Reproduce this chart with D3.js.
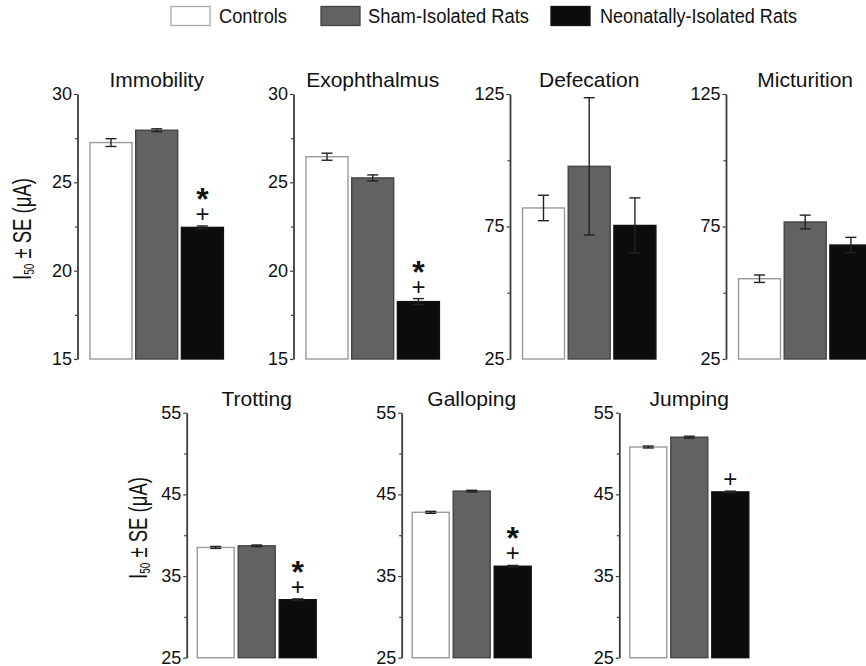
<!DOCTYPE html>
<html>
<head>
<meta charset="utf-8">
<script src="https://cdn.jsdelivr.net/npm/d3@7/dist/d3.min.js"></script>
<style>
  html, body { margin: 0; padding: 0; background: #fff; }
  svg { display: block; font-family: "Liberation Sans", Arial, Helvetica, sans-serif; }
</style>
</head>
<body>
<svg id="chart" width="866" height="666"></svg>
<script>
// ---- Data ----------------------------------------------------------------
const groups = ["Controls", "Sham-Isolated Rats", "Neonatally-Isolated Rats"];

const tests = ["Immobility", "Exophthalmus", "Defecation", "Micturition",
               "Trotting", "Galloping", "Jumping"];

// I50 means (µA) per test, in group order
const immobility   = [27.25, 27.95, 22.45];
const exophthalmus = [26.45, 25.25, 18.25];
const defecation   = [82.0, 97.7, 75.4];
const micturition  = [55.3, 76.7, 68.0];
const trotting     = [38.5, 38.7, 32.1];
const galloping    = [42.8, 45.4, 36.2];
const jumping      = [50.8, 52.0, 45.3];

// standard errors, in group order
const immobilitySE   = [0.22, 0.08, 0.08];
const exophthalmusSE = [0.2, 0.17, 0.17];
const defecationSE   = [4.8, 25.9, 10.4];
const micturitionSE  = [1.4, 2.6, 2.9];
const trottingSE     = [0.12, 0.1, 0.1];
const gallopingSE    = [0.12, 0.1, 0.1];
const jumpingSE      = [0.12, 0.12, 0.1];

// significance flags for the neonatally-isolated group (per test)
const starFlags = [true, true, false, false, true, true, false];
const plusFlags = [true, true, false, false, true, true, true];

// y-axis ticks per scale family
const ticksLow   = [15, 20, 25, 30];
const ticksWide  = [25, 75, 125];
const ticksGait  = [25, 35, 45, 55];

// ---- Styling -------------------------------------------------------------
const fills   = ["#ffffff", "#626262", "#0c0c0c"];
const strokes = ["#9a9a9a", "#444444", "#111111"];
const axisColor = "#3c3c3c";

const svg = d3.select("#chart");

// ---- Layout ---------------------------------------------------------------
const row1 = { top: 94, bottom: 359, offset: 12.5, step: 45.7, width: 42 };
const row2 = { top: 412.7, bottom: 657.7, offset: 10.5, step: 41, width: 37 };

const panels = [
  { values: immobility,   se: immobilitySE,   domain: [15, 30],  ticks: ticksLow,  axisX: 77.5,  row: row1 },
  { values: exophthalmus, se: exophthalmusSE, domain: [15, 30],  ticks: ticksLow,  axisX: 293.5, row: row1 },
  { values: defecation,   se: defecationSE,   domain: [25, 125], ticks: ticksWide, axisX: 510,   row: row1 },
  { values: micturition,  se: micturitionSE,  domain: [25, 125], ticks: ticksWide, axisX: 726,   row: row1 },
  { values: trotting,     se: trottingSE,     domain: [25, 55],  ticks: ticksGait, axisX: 186.7, row: row2 },
  { values: galloping,    se: gallopingSE,    domain: [25, 55],  ticks: ticksGait, axisX: 401.7, row: row2 },
  { values: jumping,      se: jumpingSE,      domain: [25, 55],  ticks: ticksGait, axisX: 619.3, row: row2 }
];

panels.forEach((p, i) => {
  const r = p.row;
  const g = svg.append("g");

  const y = d3.scaleLinear().domain(p.domain).range([r.bottom, r.top]);
  const x0 = p.axisX + r.offset;
  const x = d3.scaleBand()
    .domain(groups)
    .range([x0, x0 + 2 * r.step + r.width])
    .paddingInner((r.step - r.width) / r.step)
    .paddingOuter(0);

  // bars
  const rows = groups.map((grp, k) => ({ grp, k, v: p.values[k], se: p.se[k] }));
  g.selectAll("rect.bar").data(rows).join("rect")
    .attr("class", "bar")
    .attr("x", d => x(d.grp))
    .attr("y", d => y(d.v))
    .attr("width", x.bandwidth())
    .attr("height", d => y(p.domain[0]) - y(d.v))
    .attr("fill", d => fills[d.k])
    .attr("stroke", d => strokes[d.k])
    .attr("stroke-width", 1.4);

  // error bars
  const cap = 5.5;
  const eb = g.selectAll("g.err").data(rows).join("g").attr("class", "err")
    .attr("stroke", "#222").attr("stroke-width", 1.4);
  eb.append("line")
    .attr("x1", d => x(d.grp) + x.bandwidth() / 2)
    .attr("x2", d => x(d.grp) + x.bandwidth() / 2)
    .attr("y1", d => y(d.v + d.se))
    .attr("y2", d => y(d.v - d.se));
  eb.append("line")
    .attr("x1", d => x(d.grp) + x.bandwidth() / 2 - cap)
    .attr("x2", d => x(d.grp) + x.bandwidth() / 2 + cap)
    .attr("y1", d => y(d.v + d.se))
    .attr("y2", d => y(d.v + d.se));
  eb.append("line")
    .attr("x1", d => x(d.grp) + x.bandwidth() / 2 - cap)
    .attr("x2", d => x(d.grp) + x.bandwidth() / 2 + cap)
    .attr("y1", d => y(d.v - d.se))
    .attr("y2", d => y(d.v - d.se));

  // y axis: labelled major ticks
  const axis = g.append("g")
    .attr("transform", `translate(${p.axisX},0)`)
    .call(d3.axisLeft(y).tickValues(p.ticks).tickSize(3.5).tickSizeOuter(0).tickPadding(2)
      .tickFormat(d3.format("d")));
  axis.select(".domain").attr("stroke", axisColor).attr("stroke-width", 1.8);
  axis.selectAll(".tick line").attr("stroke", axisColor).attr("stroke-width", 1.2);
  axis.selectAll(".tick text")
    .attr("fill", "#111")
    .attr("font-size", 18)
    .attr("dy", "0.3em")
    .attr("font-family", "'Liberation Sans', Arial, sans-serif");

  // minor ticks halfway between majors
  const minor = d3.pairs(p.ticks).map(([a, b]) => (a + b) / 2);
  g.append("g")
    .attr("transform", `translate(${p.axisX},0)`)
    .call(d3.axisLeft(y).tickValues(minor).tickSize(2.5).tickSizeOuter(0).tickFormat(""))
    .call(a => a.select(".domain").remove())
    .selectAll(".tick line").attr("stroke", axisColor).attr("stroke-width", 1.2);

  // panel title
  g.append("text")
    .attr("x", x0 + (2 * r.step + r.width) / 2)
    .attr("y", r.top - 7)
    .attr("text-anchor", "middle")
    .attr("font-size", 21)
    .attr("fill", "#111")
    .text(tests[i]);

  // significance marks above the neonatally-isolated bar (one text, stacked)
  const last = rows[2];
  const cx = x(last.grp) + x.bandwidth() / 2;
  const topY = y(last.v + last.se);
  if (plusFlags[i] || starFlags[i]) {
    const mark = g.append("text")
      .attr("text-anchor", "middle")
      .attr("fill", "#111");
    if (starFlags[i]) {
      mark.append("tspan")
        .attr("x", cx).attr("y", topY - 16)
        .attr("font-size", 32)
        .attr("font-weight", "bold")
        .text("*");
    }
    if (plusFlags[i]) {
      mark.append("tspan")
        .attr("x", cx).attr("y", topY - 4)
        .attr("font-size", 24)
        .text("+");
    }
  }
});

// ---- Y-axis titles --------------------------------------------------------
function yTitle(cx, cy) {
  const t = svg.append("text")
    .attr("transform", `translate(${cx},${cy}) rotate(-90)`)
    .attr("text-anchor", "middle")
    .attr("font-size", 26)
    .attr("fill", "#111")
    .attr("textLength", 102)
    .attr("lengthAdjust", "spacingAndGlyphs");
  t.append("tspan").text("I");
  t.append("tspan").attr("font-size", 14).attr("dy", 3).text("50");
  t.append("tspan").attr("dy", -3).text(" \u00B1 SE (\u03BCA)");
}
yTitle(31, 229);
yTitle(147, 528);

// ---- Legend ---------------------------------------------------------------
const legendItems = [
  { box: 171, text: 219, len: 68 },
  { box: 321, text: 368, len: 161 },
  { box: 551, text: 600, len: 197 }
];
const legend = svg.append("g");
legendItems.forEach((it, k) => {
  legend.append("rect")
    .attr("x", it.box).attr("y", 6.5)
    .attr("width", 39).attr("height", 19)
    .attr("fill", fills[k])
    .attr("stroke", k === 0 ? "#aaaaaa" : strokes[k])
    .attr("stroke-width", 1.3);
  legend.append("text")
    .attr("x", it.text).attr("y", 23)
    .attr("font-size", 20)
    .attr("fill", "#111")
    .attr("textLength", it.len)
    .attr("lengthAdjust", "spacingAndGlyphs")
    .text(groups[k]);
});
</script>
</body>
</html>
